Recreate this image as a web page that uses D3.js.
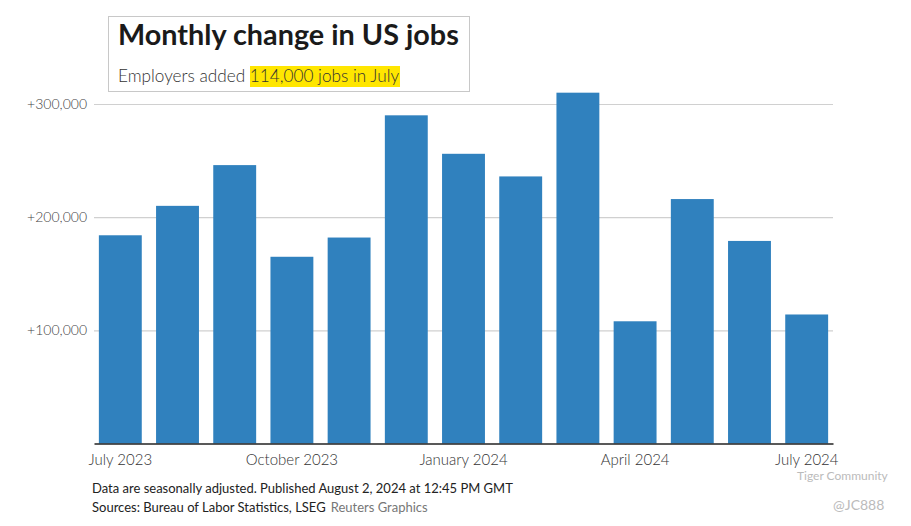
<!DOCTYPE html>
<html>
<head>
<meta charset="utf-8">
<script src="https://cdn.jsdelivr.net/npm/d3@7"></script>
<style>
  body { margin: 0; background: #fff; }
  text { font-family: Lato, "Noto Sans", sans-serif; }
</style>
</head>
<body>
<div id="container"></div>
<script>
let months = ["July 2023", "August 2023", "September 2023", "October 2023", "November 2023", "December 2023",
    "January 2024", "February 2024", "March 2024", "April 2024", "May 2024", "June 2024", "July 2024"];
let jobs = [184000, 210000, 246000, 165000, 182000, 290000, 256000, 236000, 310000, 108000, 216000, 179000, 114000];
let yTicks = [100000, 200000, 300000];
let xLabels = ["July 2023", "October 2023", "January 2024", "April 2024", "July 2024"];

let svg = d3.select('#container')
    .append("svg")
    .attr("width", 911)
    .attr("height", 526);

let x = d3.scaleBand()
    .domain(months)
    .range([94, 833])
    .paddingInner(0.25)
    .paddingOuter(0.085);

let y = d3.scaleLinear()
    .domain([0, 300000])
    .range([443.5, 104]);

// gridlines + tick labels
let grid = svg.append("g")
    .attr("transform", "translate(94,0)")
    .call(d3.axisLeft(y)
        .tickValues(yTicks)
        .tickSize(-739)
        .tickPadding(7)
        .tickFormat(d => "+" + d3.format(",")(d)));
grid.select(".domain").remove();
grid.selectAll(".tick line").attr("stroke", "#d0d0d0").attr("stroke-width", 1.2);
grid.selectAll(".tick text")
    .attr("fill", "#444")
    .attr("font-size", 14)
    .attr("font-weight", 300)
    .style("font-family", "Lato, sans-serif");

// bars
svg.append("g")
    .selectAll("rect")
    .data(jobs)
    .enter()
    .append("rect")
    .attr("x", (d, i) => x(months[i]))
    .attr("y", d => y(d))
    .attr("width", x.bandwidth())
    .attr("height", d => y(0) - y(d))
    .attr("fill", "#3081be");

// baseline + month labels
let xAxis = svg.append("g")
    .attr("transform", "translate(0," + y(0) + ")")
    .call(d3.axisBottom(x)
        .tickValues(xLabels)
        .tickSize(0)
        .tickPadding(11));
xAxis.select(".domain").attr("stroke", "#222").attr("stroke-width", 1.3);
xAxis.selectAll(".tick text")
    .attr("fill", "#333")
    .attr("font-size", 15)
    .attr("font-weight", 300)
    .style("font-family", "Lato, sans-serif");

// title box
svg.append("rect")
    .attr("x", 108.5).attr("y", 16.5)
    .attr("width", 361).attr("height", 75)
    .attr("fill", "#fff")
    .attr("stroke", "#c8c8c8");
svg.append("text")
    .attr("x", 118).attr("y", 45)
    .attr("font-size", 28.8)
    .attr("font-weight", 700)
    .attr("fill", "#1a1a1a")
    .text("Monthly change in US jobs");
svg.append("rect")
    .attr("x", 250).attr("y", 66)
    .attr("width", 150).attr("height", 21)
    .attr("fill", "#ffe600");
let sub = svg.append("text")
    .attr("x", 118).attr("y", 82)
    .attr("font-size", 17.2)
    .attr("font-weight", 300)
    .attr("fill", "#333");
sub.append("tspan").text("Employers added ");
sub.append("tspan").text("114,000 jobs in July");

// footer
svg.append("text")
    .attr("x", 92).attr("y", 493)
    .attr("font-size", 13)
    .attr("fill", "#222")
    .text("Data are seasonally adjusted. Published August 2, 2024 at 12:45 PM GMT");
let src = svg.append("text")
    .attr("x", 92).attr("y", 512)
    .attr("font-size", 13)
    .attr("fill", "#222");
src.append("tspan").text("Sources: Bureau of Labor Statistics, LSEG");
src.append("tspan").attr("dx", 5).attr("fill", "#777").text("Reuters Graphics");

// watermark
svg.append("text")
    .attr("x", 797).attr("y", 480)
    .attr("font-size", 12)
    .attr("fill", "#bbb")
    .text("Tiger Community");
svg.append("text")
    .attr("x", 833).attr("y", 510)
    .attr("font-size", 14)
    .attr("fill", "#bbb")
    .text("@JC888");
</script>
</body>
</html>
